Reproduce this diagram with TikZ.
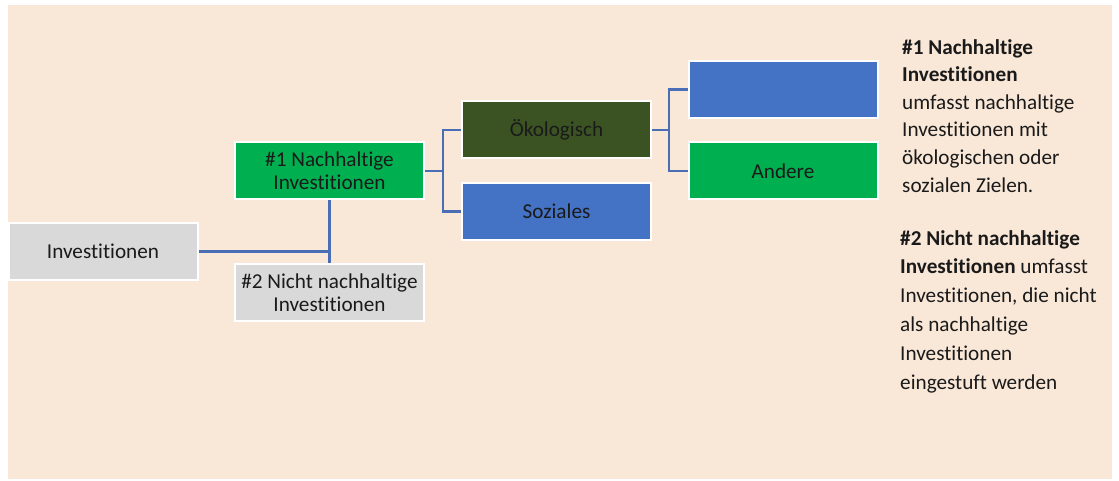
\documentclass[tikz,border=0pt]{standalone}
\usepackage{fontspec}
\setmainfont{Carlito}[Ligatures=NoCommon]
\definecolor{bgc}{HTML}{F9E8D8}
\definecolor{grayc}{HTML}{D9D9D9}
\definecolor{greenc}{HTML}{00B050}
\definecolor{darkgreenc}{HTML}{3B5323}
\definecolor{bluec}{HTML}{4472C4}
\definecolor{linec}{HTML}{4A6EB5}
\definecolor{txtc}{HTML}{1A1A1A}
\tikzset{
  box/.style={draw=white, line width=2pt, minimum width=189pt, minimum height=57pt,
    inner sep=2pt, align=center, text=txtc, font=\fontsize{21.2}{23}\selectfont},
  conn/.style={draw=linec, line width=2.4pt}
}
\begin{document}
\begin{tikzpicture}[x=1pt,y=-1pt]
\useasboundingbox[fill=white] (0,0) rectangle (1119,481);
\fill[bgc] (8,5) rectangle (1112,479);
% boxes
\node[box, fill=grayc] (inv) at (103,251.5) {Investitionen};
\node[box, fill=greenc] (n1) at (329.5,171) {\#1 Nachhaltige\\Investitionen};
\node[box, fill=grayc] (n2) at (329.5,292.5) {\#2 Nicht nachhaltige\\Investitionen};
\node[box, fill=darkgreenc] (oek) at (556.5,130) {Ökologisch};
\node[box, fill=bluec] (soz) at (556.5,211.5) {Soziales};
\node[box, fill=bluec] (tax) at (783,89.5) {};
\node[box, fill=greenc] (and) at (783,171) {Andere};
% connectors
\coordinate (j1) at (443,171);
\coordinate (j2) at (669,130);
\draw[conn] (inv.east) -- (inv.east -| n1.south);
\draw[conn] (n1.south) -- (n2.north);
\draw[conn] (n1.east) -- (j1);
\draw[conn] (oek.west) -| (j1) |- (soz.west);
\draw[conn] (oek.east) -- (j2);
\draw[conn] (tax.west) -| (j2) |- (and.west);
% right texts
\node[anchor=north west, inner sep=0pt, align=left, text=txtc,
  font=\fontsize{21.2}{27.6}\selectfont] (t1) at (902,39)
  {\textbf{\#1 Nachhaltige}\\\textbf{Investitionen}\\umfasst nachhaltige\\Investitionen mit\\ökologischen oder\\sozialen Zielen.};
\node[anchor=north west, inner sep=0pt, align=left, text=txtc,
  font=\fontsize{21.2}{28.8}\selectfont] (t2) at (900,230)
  {\textbf{\#2 Nicht nachhaltige}\\\textbf{Investitionen} umfasst\\Investitionen, die nicht\\als nachhaltige\\Investitionen\\eingestuft werden};
\end{tikzpicture}
\end{document}
